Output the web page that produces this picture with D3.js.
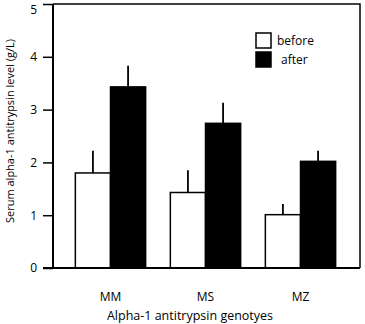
<!DOCTYPE html>
<html>
<head>
<meta charset="utf-8">
<script src="https://cdn.jsdelivr.net/npm/d3@7"></script>
<style>
  body { margin: 0; background: #fff; }
  text { font-family: "Open Sans", sans-serif; fill: #000; }
</style>
</head>
<body>
<div id="chart"></div>
<script>
var genotypes = ["MM", "MS", "MZ"];
var seriesNames = ["before", "after"];
var beforeValues = [1.80, 1.43, 1.01];
var afterValues = [3.43, 2.74, 2.02];
var beforeErrors = [0.42, 0.42, 0.20];
var afterErrors = [0.40, 0.39, 0.20];
var yTicks = [0, 1, 2, 3, 4, 5];

function init() {
    var w = 365, h = 324;
    var left = 53, right = 360, top = 4, bottom = 268;

    var svg = d3.select("#chart").append("svg")
        .attr("width", w)
        .attr("height", h);

    var data = genotypes.map(function(g, i) {
        return {
            genotype: g,
            bars: [
                { key: "before", value: beforeValues[i], err: beforeErrors[i] },
                { key: "after", value: afterValues[i], err: afterErrors[i] }
            ]
        };
    });

    var xScale = d3.scaleBand()
        .domain(genotypes)
        .range([63, 348])
        .paddingInner(0.26)
        .paddingOuter(0.13);

    var xInner = d3.scaleBand()
        .domain(seriesNames)
        .range([0, xScale.bandwidth()]);

    var yScale = d3.scaleLinear()
        .domain([0, 5])
        .range([bottom, top]);

    var fill = d3.scaleOrdinal().domain(seriesNames).range(["#fff", "#000"]);

    // frame (top and right)
    svg.append("path")
        .attr("d", "M" + left + "," + top + "H" + right + "V" + bottom)
        .attr("fill", "none")
        .attr("stroke", "#000")
        .attr("stroke-width", 1.5);

    var groups = svg.selectAll("g.group")
        .data(data)
        .enter()
        .append("g")
        .attr("class", "group")
        .attr("transform", function(d) { return "translate(" + xScale(d.genotype) + ",0)"; });

    // error bars (upper only)
    groups.selectAll("line.err")
        .data(function(d) { return d.bars; })
        .enter()
        .append("line")
        .attr("class", "err")
        .attr("x1", function(d) { return xInner(d.key) + xInner.bandwidth() / 2; })
        .attr("x2", function(d) { return xInner(d.key) + xInner.bandwidth() / 2; })
        .attr("y1", function(d) { return yScale(d.value); })
        .attr("y2", function(d) { return yScale(d.value + d.err); })
        .attr("stroke", "#000")
        .attr("stroke-width", 1.8);

    groups.selectAll("rect")
        .data(function(d) { return d.bars; })
        .enter()
        .append("rect")
        .attr("x", function(d) { return xInner(d.key); })
        .attr("y", function(d) { return yScale(d.value); })
        .attr("width", xInner.bandwidth())
        .attr("height", function(d) { return yScale(0) - yScale(d.value); })
        .attr("fill", function(d) { return fill(d.key); })
        .attr("stroke", "#000")
        .attr("stroke-width", 1.5);

    // y axis
    var yAxis = d3.axisLeft(yScale)
        .tickValues(yTicks)
        .tickFormat(d3.format("d"))
        .tickSize(10)
        .tickPadding(6);

    var gy = svg.append("g")
        .attr("transform", "translate(" + left + ",0)")
        .call(yAxis);
    gy.select(".domain").attr("stroke-width", 2).attr("d", "M0," + top + "V" + bottom);
    gy.selectAll(".tick line").attr("stroke-width", 1.5);
    gy.selectAll(".tick text").style("font-size", "12px").attr("font-family", null);
    // keep the top label inside the picture
    gy.selectAll(".tick text").filter(function(d) { return d === 5; }).attr("dy", "0.8em");

    // x axis
    var xAxis = d3.axisBottom(xScale)
        .tickSize(0)
        .tickPadding(24);

    var gx = svg.append("g")
        .attr("transform", "translate(0," + bottom + ")")
        .call(xAxis);
    gx.select(".domain").attr("stroke-width", 2).attr("d", "M43,0H" + right);
    gx.selectAll(".tick text").style("font-size", "12px").attr("font-family", null);

    // axis titles
    svg.append("text")
        .attr("x", 190)
        .attr("y", 320)
        .attr("text-anchor", "middle")
        .style("font-size", "12.5px")
        .text("Alpha-1 antitrypsin genotyes");

    svg.append("text")
        .attr("transform", "translate(14,131) rotate(-90)")
        .attr("text-anchor", "middle")
        .style("font-size", "11px")
        .text("Serum alpha-1 antitrypsin level (g/L)");

    // legend
    var legend = svg.selectAll("g.legend")
        .data(seriesNames)
        .enter()
        .append("g")
        .attr("class", "legend")
        .attr("transform", function(d, i) { return "translate(256," + (33 + i * 19) + ")"; });

    legend.append("rect")
        .attr("width", 15)
        .attr("height", 15)
        .attr("fill", function(d) { return fill(d); })
        .attr("stroke", "#000")
        .attr("stroke-width", 1.5);

    legend.append("text")
        .attr("x", function(d, i) { return i === 0 ? 21 : 25; })
        .attr("y", 12)
        .style("font-size", "12px")
        .text(function(d) { return d; });
}

window.onload = init;
</script>
</body>
</html>
